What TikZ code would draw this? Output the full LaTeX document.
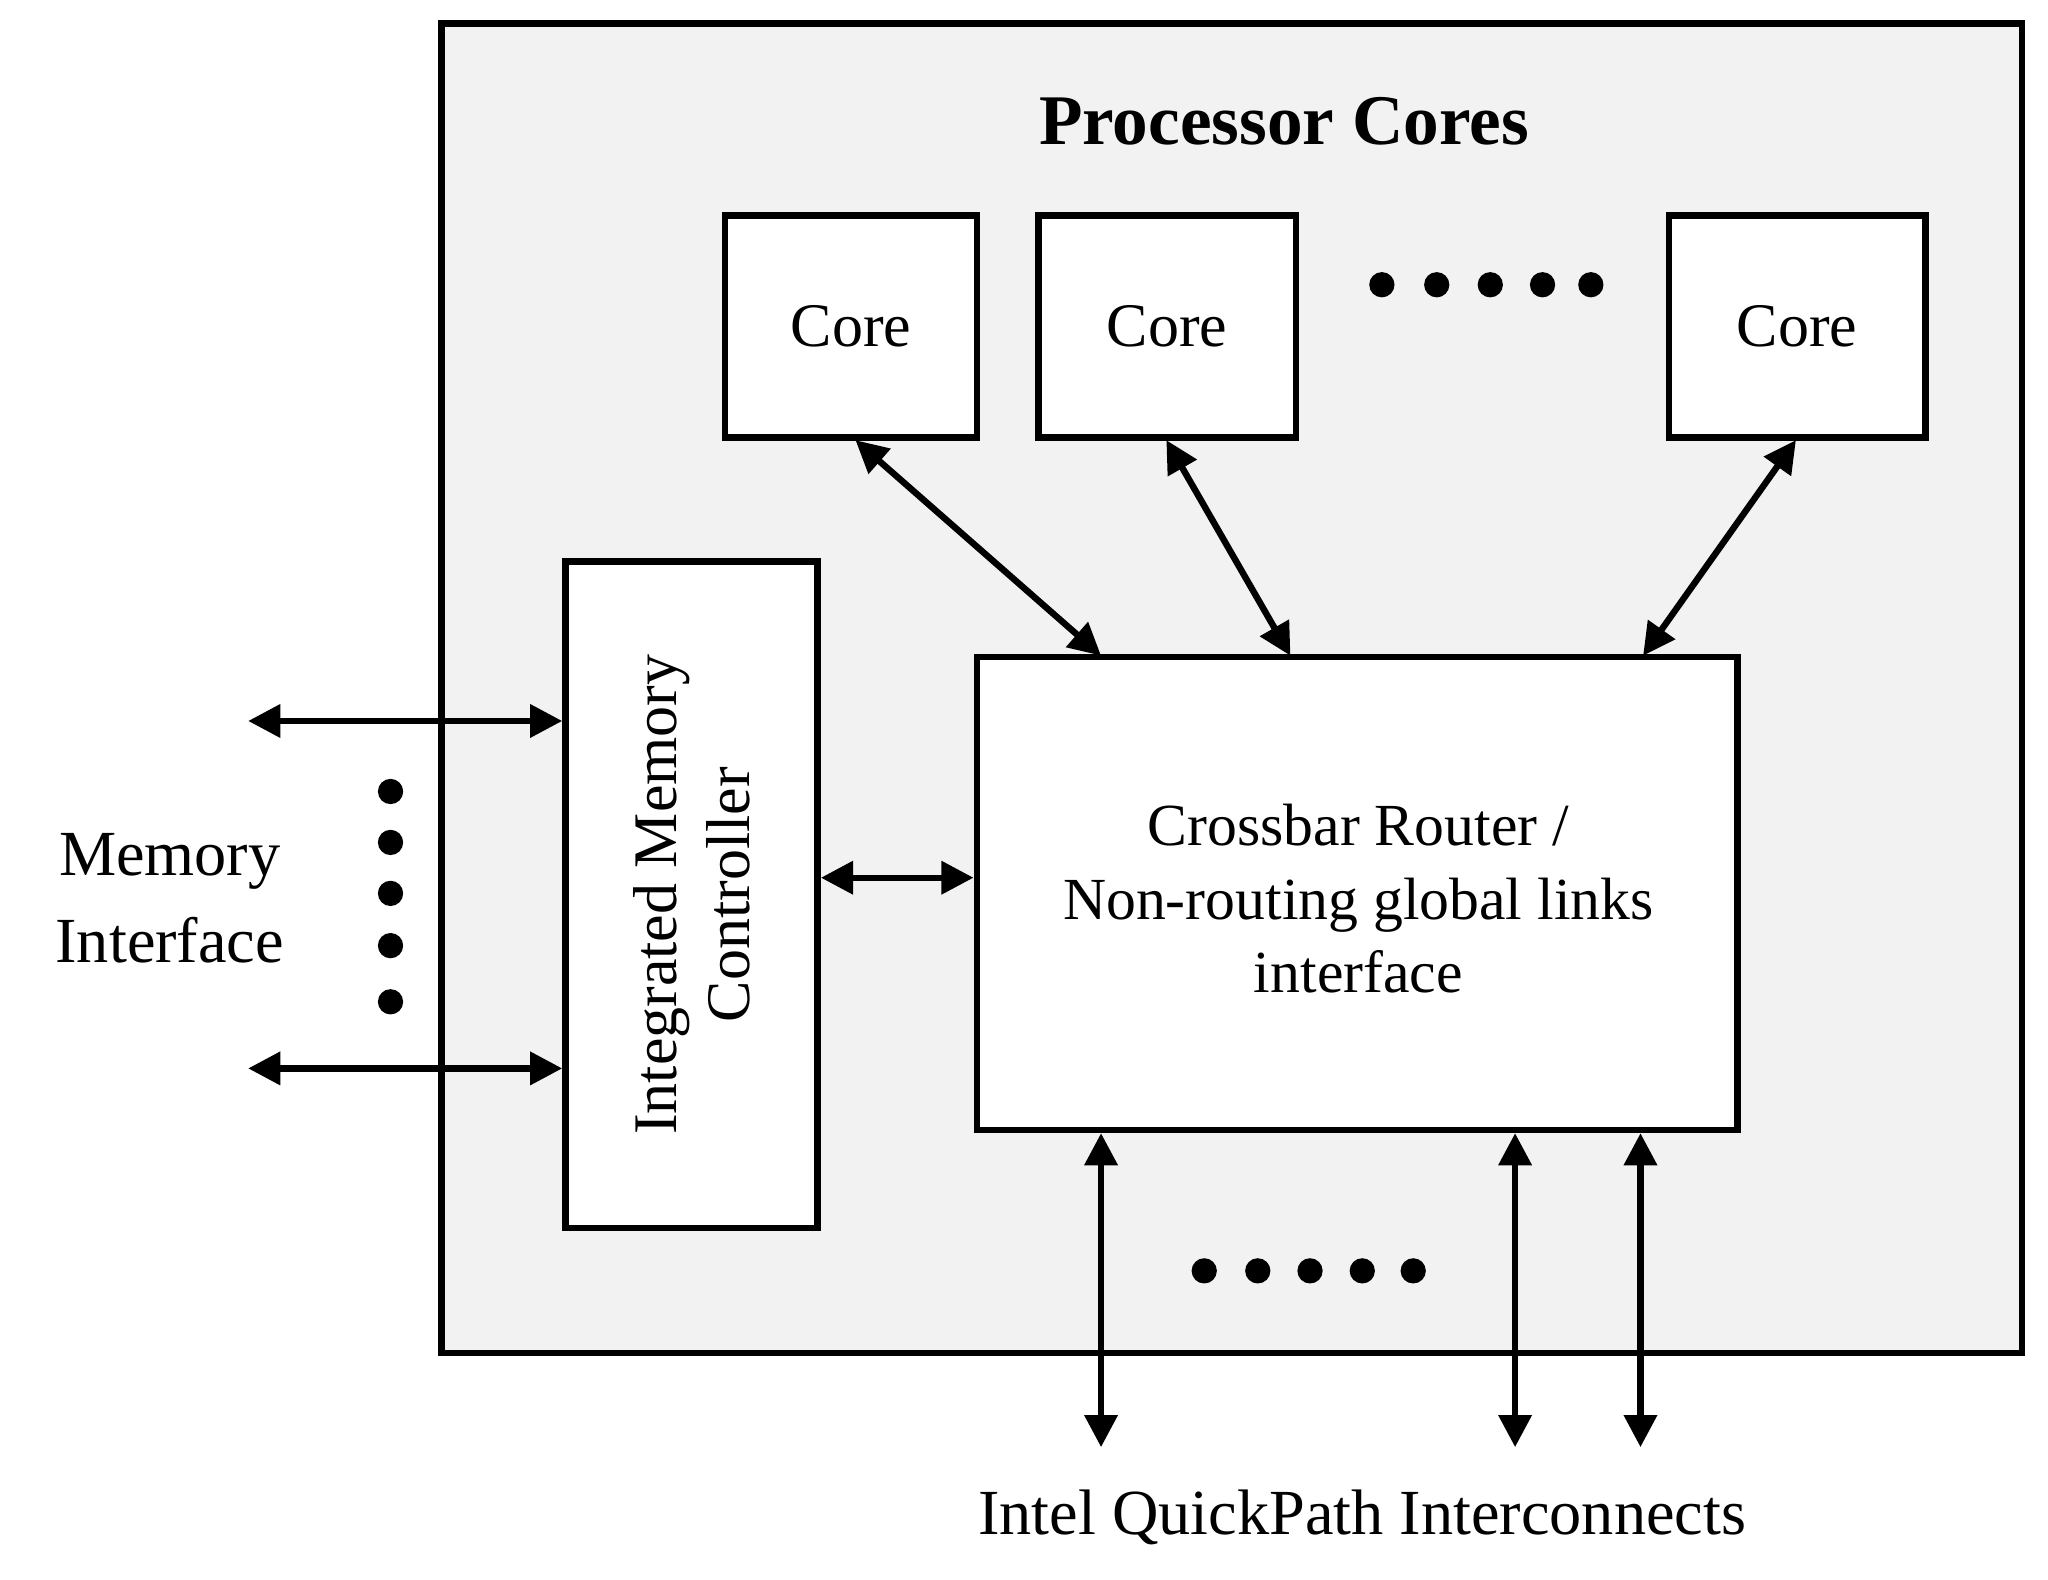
\documentclass[tikz,border=0pt]{standalone}
\usepackage{fontspec}
\setmainfont{Liberation Serif}
\usetikzlibrary{arrows.meta}
\begin{document}
\begin{tikzpicture}[x=0.01cm,y=-0.01cm,
  box/.style={draw,line width=1.4pt,fill=white},
  arr/.style={line width=1.4pt,{Triangle[length=7pt,width=7pt]}-{Triangle[length=7pt,width=7pt]}},
  dot/.style={circle,fill=black,inner sep=0pt,minimum size=5.5pt}]
\useasboundingbox (0,0) rectangle (1568,1209);
\draw[line width=1.4pt,fill={rgb,255:red,242;green,242;blue,242}] (338,18) rectangle (1548,1036);
\node[font=\fontsize{15.5}{18}\selectfont\bfseries] (title) at (983,93) {Processor Cores};
\node[box,minimum width=1.93cm,minimum height=1.70cm,font=\fontsize{13.5}{16}\selectfont] (c1) at (651.5,250) {Core};
\node[box,minimum width=1.97cm,minimum height=1.70cm,font=\fontsize{13.5}{16}\selectfont] (c2) at (893.5,250) {Core};
\node[box,minimum width=1.96cm,minimum height=1.70cm,font=\fontsize{13.5}{16}\selectfont] (c3) at (1376,250) {Core};
\foreach \x/\n in {1058/a,1100/b,1141/c,1181/d,1218/e} \node[dot] (t\n) at (\x,218) {};
\node[box,minimum width=1.93cm,minimum height=5.10cm] (imc) at (529.5,685) {};
\node[rotate=90,align=center,font=\fontsize{13.5}{16}\selectfont] (imct) at (529.5,685) {Integrated Memory\\Controller};
\node[box,minimum width=5.82cm,minimum height=3.62cm] (xb) at (1039,684) {};
\node[align=center,font=\fontsize{13}{16}\selectfont] (xbt) at (1040,688) {Crossbar Router /\\Non-routing global links\\interface};
\coordinate (a1) at (843,502); \coordinate (a2) at (988,502); \coordinate (a3) at (1258,502);
\draw[arr] (655,337) -- (a1);
\draw[arr] (893,337) -- (a2);
\draw[arr] (1375,337) -- (a3);
\draw[arr] (imc.east |- 0,672) -- (xb.west |- 0,672);
\coordinate (m1) at (190,552); \coordinate (m2) at (190,818);
\draw[arr] (m1) -- (imc.west |- m1);
\draw[arr] (m2) -- (imc.west |- m2);
\foreach \y/\n in {606/a,645/b,684/c,724/d,767/e} \node[dot] (v\n) at (299,\y) {};
\node[align=center,font=\fontsize{14}{19}\selectfont] (mi) at (130,688) {Memory\\Interface};
\foreach \x/\n in {843/a,1160/b,1256/c} {\coordinate (q\n) at (\x,1108); \draw[arr] (xb.south -| q\n) -- (q\n);}
\foreach \x/\n in {922/a,963/b,1003/c,1043/d,1082/e} \node[dot] (b\n) at (\x,973) {};
\node[font=\fontsize{14}{17}\selectfont] (qpi) at (1043,1162) {Intel QuickPath Interconnects};
\end{tikzpicture}
\end{document}
